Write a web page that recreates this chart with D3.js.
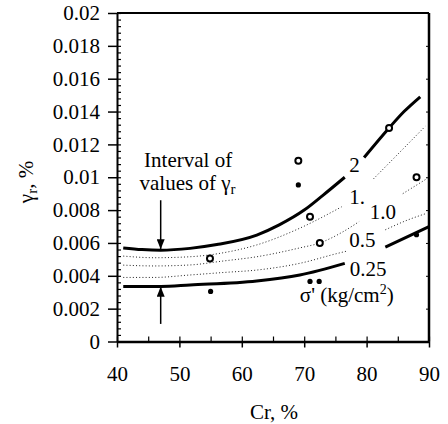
<!DOCTYPE html>
<html>
<head>
<meta charset="utf-8">
<script src="https://cdn.jsdelivr.net/npm/d3@7"></script>
<style>
  body { margin: 0; background: #fff; }
</style>
</head>
<body>
<svg id="chart" width="448" height="424"></svg>
<script>
// axis ticks
const xTicks = [40, 50, 60, 70, 80, 90];
const yTicks = [0, 0.002, 0.004, 0.006, 0.008, 0.01, 0.012, 0.014, 0.016, 0.018, 0.02];
const yTickLabels = ["0", "0.002", "0.004", "0.006", "0.008", "0.01", "0.012", "0.014", "0.016", "0.018", "0.02"];

// sigma' curves [Cr, gamma_r]; null marks the gap left for the label
const curve2 = [[41, 0.0057], [44, 0.0056], [47, 0.00556], [51.7, 0.00567], [56, 0.0059], [62.4, 0.00648],
  [66, 0.0071], [70, 0.0080], [73, 0.0089], [76.5, 0.0100], null,
  [79.6, 0.0112], [83.6, 0.0130], [86, 0.0140], [88.6, 0.0149]];
const curve15 = [[41, 0.0052], [46, 0.0051], [51.7, 0.00516], [57, 0.0054], [62.4, 0.00588], [69.3, 0.0069],
  [76, 0.0082], null, [81.1, 0.0099], [85, 0.0114], [89.4, 0.0131]];
const curve10 = [[41, 0.00465], [46, 0.0046], [51.7, 0.00466], [57, 0.0049], [62.4, 0.00516], [69.3, 0.0057],
  [72.5, 0.0060], [76.3, 0.0067], [78.8, 0.0073], null, [85.8, 0.0090], [89.6, 0.0099]];
const curve05 = [[41, 0.0039], [46, 0.0039], [51.7, 0.00405], [57, 0.0042], [62.4, 0.00435], [69.3, 0.00476],
  [75.2, 0.00535], [76.8, 0.0055], null, [83, 0.0068], [86.6, 0.0074], [89.6, 0.0078]];
const curve025 = [[41, 0.00335], [47, 0.00335], [51.7, 0.00344], [62.4, 0.00368], [69.3, 0.00405],
  [76.5, 0.00476], null, [83, 0.00575], [90, 0.0070]];

const sigmaNames = ["2", "1.", "1.0", "0.5", "0.25"];

// measured points
const openPoints = [[54.9, 0.00505], [69.06, 0.0110], [70.93, 0.0076], [72.5, 0.0060], [83.6, 0.0130], [88, 0.0100]];
const filledPoints = [[55, 0.00305], [69.06, 0.00953], [70.93, 0.00366], [72.4, 0.00366], [88, 0.0065]];

const svg = d3.select("#chart");
const fontSize = 21;
const serif = "Liberation Serif";

const x = d3.scaleLinear().domain([40, 90]).range([117, 429]);
const y = d3.scaleLinear().domain([0, 0.02]).range([341.5, 13]);

// frame: top and right borders
svg.append("line")
  .attr("x1", x(40)).attr("x2", x(90))
  .attr("y1", y(0.02)).attr("y2", y(0.02))
  .attr("stroke", "#000").attr("stroke-width", 2);
svg.append("line")
  .attr("x1", x(90)).attr("x2", x(90))
  .attr("y1", y(0.02)).attr("y2", y(0))
  .attr("stroke", "#000").attr("stroke-width", 2.5);

const rightTicks = svg.append("g")
  .attr("transform", `translate(${x(90)},0)`)
  .call(d3.axisRight(y).tickValues(yTicks).tickSize(-3).tickFormat(""));
rightTicks.select(".domain").remove();

// left axis: major outside, minor inside
const yMinor = svg.append("g")
  .attr("transform", `translate(${x(40)},0)`)
  .call(d3.axisLeft(y).tickValues(d3.range(0, 0.02001, 0.0004)).tickSize(-4).tickFormat(""));
yMinor.select(".domain").remove();
yMinor.selectAll("line").attr("stroke-width", 1.2);

const yAxis = svg.append("g")
  .attr("transform", `translate(${x(40)},0)`)
  .call(d3.axisLeft(y).tickValues(yTicks).tickFormat((d, i) => yTickLabels[i])
    .tickSize(9).tickPadding(8).tickSizeOuter(0));
yAxis.select(".domain").attr("stroke-width", 2);
yAxis.selectAll("line").attr("stroke-width", 1.5);
yAxis.selectAll("text")
  .style("font-family", serif)
  .style("font-size", fontSize + "px")
  .attr("fill", "#000");

// bottom axis
const xMinor = svg.append("g")
  .attr("transform", `translate(0,${y(0)})`)
  .call(d3.axisBottom(x).tickValues(d3.range(40, 91, 5)).tickSize(-5).tickFormat(""));
xMinor.select(".domain").remove();
xMinor.selectAll("line").attr("stroke-width", 1.2);

const xAxis = svg.append("g")
  .attr("transform", `translate(0,${y(0)})`)
  .call(d3.axisBottom(x).tickValues(xTicks).tickSize(6).tickPadding(19).tickSizeOuter(0));
xAxis.select(".domain").attr("stroke-width", 2.5);
xAxis.selectAll("line").attr("stroke-width", 1.5);
xAxis.selectAll("text")
  .style("font-family", serif)
  .style("font-size", fontSize + "px")
  .attr("fill", "#000");

// axis titles
svg.append("text")
  .attr("x", 274).attr("y", 419)
  .attr("text-anchor", "middle")
  .style("font-family", serif)
  .style("font-size", fontSize + "px")
  .text("Cr, %");

const yTitle = svg.append("text")
  .attr("transform", "translate(33,182) rotate(-90)")
  .attr("text-anchor", "middle")
  .style("font-family", serif)
  .style("font-size", fontSize + "px");
yTitle.append("tspan").text("γ");
yTitle.append("tspan").style("font-size", "15px").attr("dy", 4).text("r");
yTitle.append("tspan").attr("dy", -4).text(", %");

// curves
const line = d3.line()
  .defined(d => d)
  .x(d => x(d[0]))
  .y(d => y(d[1]))
  .curve(d3.curveMonotoneX);

const gCurves = svg.append("g").attr("fill", "none").attr("stroke", "#000");

[curve2, curve025].forEach(c => {
  gCurves.append("path")
    .datum(c)
    .attr("d", line)
    .attr("stroke-width", 3)
    .attr("stroke-linecap", "butt");
});

[curve15, curve10, curve05].forEach(c => {
  gCurves.append("path")
    .datum(c)
    .attr("d", line)
    .attr("stroke", "#222")
    .attr("stroke-width", 1)
    .attr("stroke-dasharray", "1,2.2");
});

// curve labels
const labelPos = [[77.2, 0.0103], [77.2, 0.0084], [80.5, 0.00745], [77.2, 0.00575], [77.3, 0.00397]];
svg.append("g")
  .selectAll("text")
  .data(sigmaNames)
  .enter()
  .append("text")
  .attr("x", (d, i) => x(labelPos[i][0]))
  .attr("y", (d, i) => y(labelPos[i][1]))
  .style("font-family", serif)
  .style("font-size", fontSize + "px")
  .text(d => d);

const sigmaUnit = svg.append("text")
  .attr("x", x(69.3)).attr("y", y(0.0024))
  .style("font-family", serif)
  .style("font-size", fontSize + "px");
sigmaUnit.append("tspan").text("σ' (kg/cm");
sigmaUnit.append("tspan").style("font-size", "14px").attr("dy", -8).text("2");
sigmaUnit.append("tspan").attr("dy", 8).text(")");

// points
svg.append("g")
  .selectAll("circle")
  .data(openPoints)
  .enter()
  .append("circle")
  .attr("cx", d => x(d[0]))
  .attr("cy", d => y(d[1]))
  .attr("r", 3)
  .attr("fill", "#fff")
  .attr("stroke", "#000")
  .attr("stroke-width", 2);

svg.append("g")
  .selectAll("circle")
  .data(filledPoints)
  .enter()
  .append("circle")
  .attr("cx", d => x(d[0]))
  .attr("cy", d => y(d[1]))
  .attr("r", 2.6)
  .attr("fill", "#000");

// interval annotation
svg.append("text")
  .attr("x", x(51.4)).attr("y", y(0.0106))
  .attr("text-anchor", "middle")
  .style("font-family", serif)
  .style("font-size", fontSize + "px")
  .text("Interval of");
const note2 = svg.append("text")
  .attr("x", x(51.3)).attr("y", y(0.0092))
  .attr("text-anchor", "middle")
  .style("font-family", serif)
  .style("font-size", fontSize + "px");
note2.append("tspan").text("values of γ");
note2.append("tspan").style("font-size", "15px").attr("dy", 4).text("r");

svg.append("defs").append("marker")
  .attr("id", "head")
  .attr("viewBox", "0 0 10 8")
  .attr("refX", 10).attr("refY", 4)
  .attr("markerWidth", 10).attr("markerHeight", 8)
  .attr("markerUnits", "userSpaceOnUse")
  .attr("orient", "auto")
  .append("path")
  .attr("d", "M0,0L10,4L0,8Z")
  .attr("fill", "#000");

const arrows = [[47, 0.0086, 0.00562], [47, 0.00107, 0.00333]];
svg.append("g")
  .selectAll("line")
  .data(arrows)
  .enter()
  .append("line")
  .attr("x1", d => x(d[0])).attr("x2", d => x(d[0]))
  .attr("y1", d => y(d[1])).attr("y2", d => y(d[2]))
  .attr("stroke", "#000")
  .attr("stroke-width", 1.5)
  .attr("marker-end", "url(#head)");
</script>
</body>
</html>
